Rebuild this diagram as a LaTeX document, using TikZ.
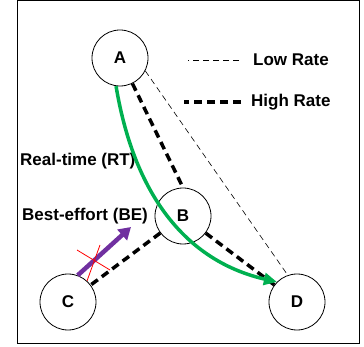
\documentclass[tikz,border=0pt]{standalone}
\usepackage{fontspec}
\setmainfont{Liberation Sans}
\usetikzlibrary{arrows.meta}
\definecolor{rtgreen}{HTML}{00B050}
\definecolor{bepurple}{HTML}{7030A0}

\begin{document}
\begin{tikzpicture}[x=1pt, y=-1pt,
    station/.style={draw, circle, line width=0.8pt, minimum size=56pt, inner sep=0pt,
        font=\fontsize{17}{20}\selectfont\bfseries},
    txt/.style={anchor=west, inner sep=0pt, font=\fontsize{17}{20}\selectfont\bfseries},
    lowrate/.style={line width=0.6pt, dash pattern=on 6pt off 4pt},
    highrate/.style={line width=3.5pt, dash pattern=on 8pt off 5pt},
    ]
    \useasboundingbox (0,0) rectangle (364,347);

    % Frame
    \draw[line width=1pt] (17,1) rectangle (359.5,343);

    % Stations
    \node[station] (A) at (120,58) {A};
    \node[station] (B) at (183,216) {B};
    \node[station] (C) at (68,302) {C};
    \node[station] (D) at (297,302) {D};

    % Legend
    \node[txt] (low) at (253,60) {Low Rate};
    \node[txt] (high) at (251,102) {High Rate};
    \draw[lowrate] ([xshift=-14pt]low.west) -- ++(-51,0);
    \draw[highrate] ([xshift=-10pt]high.west) -- ++(-57,0);

    % Links
    \draw[lowrate] (A.-27) -- (D.109);
    \draw[highrate] (A) -- (B.north);
    \draw[highrate] (B) -- (C);
    \draw[highrate] (B) -- (D);

    % Traffic labels
    \node[txt] (rt) at (20,161) {Real-time (RT)};
    \node[txt] (be) at (22,216) {Best-effort (BE)};

    % Real-time flow
    \draw[rtgreen, line width=3.5pt, -{Triangle[length=13pt, width=12pt]}]
        (A.-98) .. controls (135,200) and (190,262) .. (D.135);

    % Best-effort flow, blocked
    \coordinate (betip) at (131,227);
    \draw[bepurple, line width=4.5pt, -{Triangle[length=12pt, width=14pt]}] (C.70) -- (betip);
    \draw[red, line width=0.8pt] (77,250) -- (110,270);
    \draw[red, line width=0.8pt] (100,245) -- (87,281);

\end{tikzpicture}
\end{document}
